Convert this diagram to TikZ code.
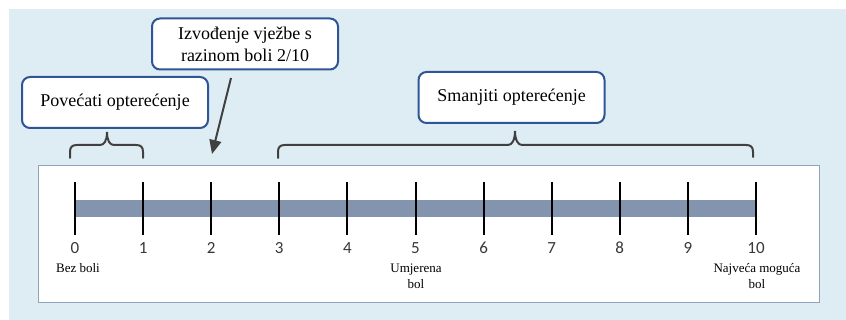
\documentclass[tikz,border=0pt]{standalone}
\usepackage{fontspec}
\setmainfont{Liberation Serif}
\newfontfamily\numfont{Carlito}
\usetikzlibrary{arrows.meta}
\definecolor{bgblue}{HTML}{DEEDF3}
\definecolor{boxblue}{HTML}{2F5597}
\definecolor{darkline}{HTML}{404040}
\definecolor{barcol}{HTML}{8394AE}
\definecolor{framecol}{HTML}{8FA3BC}
\definecolor{numcol}{HTML}{383838}
\tikzset{
  callout/.style={draw=boxblue, line width=2pt, rounded corners=8pt, fill=white,
    minimum width=186pt, minimum height=51pt, align=center, inner sep=0pt,
    font=\fontsize{18}{22}\selectfont},
  tick/.style={line width=2pt, black},
  num/.style={anchor=base, font=\numfont\fontsize{17}{18}\selectfont, text=numcol, inner sep=0pt},
  small/.style={anchor=base, align=center, font=\fontsize{13}{16}\selectfont, inner sep=0pt},
  bracestyle/.style={darkline, line width=2pt, line cap=round},
  arr/.style={darkline, line width=2pt, -{Triangle[length=14pt,width=12pt]}}
}
\begin{document}
\begin{tikzpicture}[x=1pt,y=-1pt]
\useasboundingbox (0,0) rectangle (846,320);
\fill[white] (0,0) rectangle (846,320);
\fill[bgblue] (9,9) rectangle (846,320);
\draw[framecol, line width=1pt, fill=white] (38,166) rectangle (819,303);
% scale
\foreach \i in {0,...,10} {
  \coordinate (t\i) at ({75+68.1*\i},182);
  \coordinate (b\i) at ({75+68.1*\i},235);
}
\fill[barcol] (75,200) rectangle (756,217);
\foreach \i in {0,...,10} {
  \draw[tick] (t\i) -- (b\i);
  \node[num] (n\i) at ({75+68.1*\i},253.5) {\i};
}
\node[small] (bez) at (78,273) {Bez boli};
\node[small] (umj) at (416,289) {Umjerena\\bol};
\node[small] (naj) at (757,289) {Najveća moguća\\bol};
% callouts
\node[callout] (izv) at (245,44) {Izvođenje vježbe s\\razinom boli 2/10};
\node[callout] (pov) at (115,102.5) {Povećati opterećenje};
\node[callout] (sma) at (511.5,97.5) {Smanjiti opterećenje};
% arrow
\coordinate (a1) at (231,78);
\coordinate (a2) at (212,154);
\draw[arr] (a1) -- (a2);
% brace 1
\draw[bracestyle] (70,158) -- (70,152) .. controls (70,147) and (72,145) .. (77,145)
  -- (100,145) .. controls (104,145) and (107,141) .. (107,132)
  .. controls (107,141) and (110,145) .. (114,145)
  -- (136,145) .. controls (141,145) and (143,147) .. (143,152) -- (143,158);
% brace 2
\draw[bracestyle] (278,158) -- (278,152) .. controls (278,147) and (280,145) .. (285,145)
  -- (508,145) .. controls (512,145) and (515,140) .. (515,131)
  .. controls (515,140) and (518,145) .. (522,145)
  -- (746,145) .. controls (751,145) and (753,147) .. (753,152) -- (753,157);
\end{tikzpicture}
\end{document}
